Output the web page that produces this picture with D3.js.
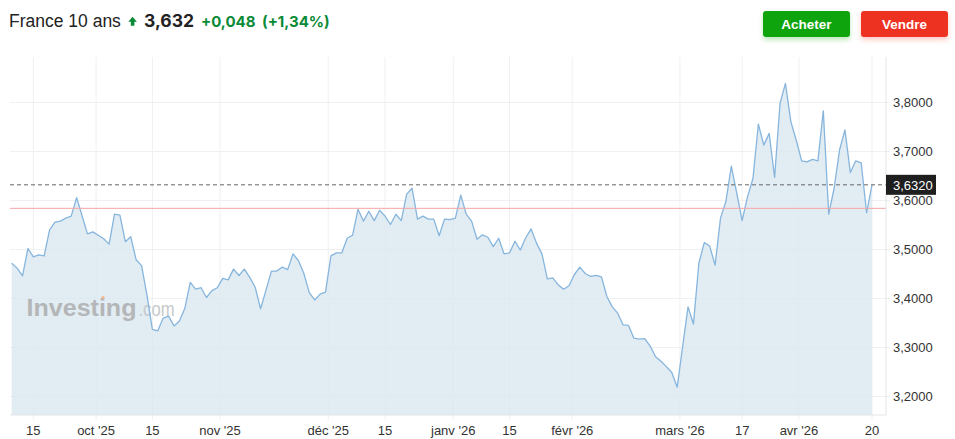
<!DOCTYPE html>
<html>
<head>
<meta charset="utf-8">
<title>France 10 ans</title>
<script src="https://d3js.org/d3.v7.min.js"></script>
<style>
body { margin: 0; background: #fff; }
svg { display: block; font-family: "Liberation Sans", Arial, sans-serif; }
.num { font-family: Inter, "Liberation Sans", sans-serif; }
</style>
</head>
<body>
<svg id="chart" width="955" height="439"></svg>
<script>
// daily closes, one per trading day
const yields = [
  3.472, 3.462, 3.446, 3.502, 3.485, 3.489, 3.487, 3.540, 3.556, 3.558,
  3.564, 3.568, 3.606, 3.569, 3.532, 3.536, 3.529, 3.522, 3.511, 3.572,
  3.570, 3.516, 3.526, 3.479, 3.467, 3.407, 3.337, 3.334, 3.360, 3.364,
  3.344, 3.354, 3.380, 3.433, 3.419, 3.422, 3.402, 3.416, 3.422, 3.441,
  3.438, 3.460, 3.447, 3.460, 3.443, 3.423, 3.379, 3.417, 3.456, 3.456,
  3.464, 3.459, 3.491, 3.477, 3.451, 3.412, 3.397, 3.409, 3.413, 3.487,
  3.493, 3.493, 3.523, 3.529, 3.582, 3.558, 3.578, 3.559, 3.580, 3.568,
  3.551, 3.572, 3.559, 3.613, 3.625, 3.562, 3.568, 3.562, 3.562, 3.528,
  3.562, 3.561, 3.564, 3.611, 3.572, 3.558, 3.521, 3.530, 3.525, 3.506,
  3.523, 3.491, 3.493, 3.517, 3.499, 3.524, 3.542, 3.513, 3.491, 3.440,
  3.442, 3.428, 3.419, 3.426, 3.449, 3.464, 3.451, 3.445, 3.447, 3.444,
  3.404, 3.383, 3.370, 3.346, 3.345, 3.319, 3.317, 3.318, 3.303, 3.281,
  3.272, 3.261, 3.249, 3.219, 3.302, 3.383, 3.348, 3.472, 3.514, 3.507,
  3.468, 3.564, 3.598, 3.670, 3.615, 3.559, 3.608, 3.645, 3.756, 3.713,
  3.737, 3.647, 3.798, 3.839, 3.761, 3.723, 3.681, 3.679, 3.684, 3.681,
  3.783, 3.572, 3.625, 3.703, 3.744, 3.657, 3.681, 3.677, 3.575, 3.632
];

// x ticks: position in trading days from first point, and label
const tickDays   = [4, 15.6, 26, 38.5, 58.5, 69, 81.6, 92, 103.6, 123.5, 135, 145.5, 159];
const tickLabels = ["15", "oct '25", "15", "nov '25", "déc '25", "15", "janv '26", "15", "févr '26", "mars '26", "17", "avr '26", "20"];

const yTicks = [3.2, 3.3, 3.4, 3.5, 3.6, 3.7, 3.8];
const lastValue = 3.632;
const prevClose = 3.584;

const fr = d3.formatLocale({decimal: ",", thousands: " ", grouping: [3], currency: ["", " €"]});
const f4 = fr.format(".4f");

const svg = d3.select("#chart");

const plotL = 10, plotR = 886, plotT = 57, plotB = 415;

var x = d3.scaleLinear().domain([0, yields.length - 1]).range([11.7, 872]);
var y = d3.scaleLinear().domain([3.2, 3.8]).range([396.5, 102.5]);

// header
svg.append("text").attr("x", 9).attr("y", 27)
  .attr("font-size", 17.5).attr("fill", "#222").text("France 10 ans");

svg.append("path")
  .attr("d", "M128.3,21.7 L132.6,16.7 L136.9,21.7 L134.4,21.7 L134.4,25.7 L130.8,25.7 L130.8,21.7 Z")
  .attr("fill", "#0a8a36");

svg.append("text").attr("class", "num").attr("x", 144).attr("y", 27)
  .attr("font-size", 17.5).attr("font-weight", 700).attr("fill", "#222").text("3,632");
svg.append("text").attr("class", "num").attr("x", 201).attr("y", 27)
  .attr("font-size", 15).attr("font-weight", 700).attr("fill", "#0a8a36").text("+0,048");
svg.append("text").attr("class", "num").attr("x", 262).attr("y", 27)
  .attr("font-size", 15).attr("font-weight", 700).attr("fill", "#0a8a36").text("(+1,34%)");

// buttons, with a soft glow of their own colour
const defs = svg.append("defs");
[["Acheter", 763, "#0ea40e", "shG"], ["Vendre", 861, "#ee3124", "shR"]].forEach(function (b) {
  const flt = defs.append("filter").attr("id", b[3])
    .attr("x", "-20%").attr("y", "-40%").attr("width", "140%").attr("height", "200%");
  flt.append("feDropShadow").attr("dx", 0).attr("dy", 3).attr("stdDeviation", 2.5)
    .attr("flood-color", b[2]).attr("flood-opacity", 0.25);
  svg.append("rect").attr("x", b[1]).attr("y", 11).attr("width", 87).attr("height", 26)
    .attr("rx", 3).attr("fill", b[2]).attr("filter", "url(#" + b[3] + ")");
  svg.append("text").attr("x", b[1] + 43.5).attr("y", 29).attr("text-anchor", "middle")
    .attr("font-size", 13.5).attr("font-weight", 700).attr("fill", "#fff").text(b[0]);
});

// gridlines
svg.append("g").selectAll("line").data(yTicks).enter().append("line")
  .attr("x1", plotL).attr("x2", plotR + 4)
  .attr("y1", d => y(d)).attr("y2", d => y(d))
  .attr("stroke", "#eef0f2").attr("stroke-width", 1);

svg.append("g").selectAll("line").data(tickDays).enter().append("line")
  .attr("x1", d => x(d)).attr("x2", d => x(d))
  .attr("y1", plotT).attr("y2", plotB + 5)
  .attr("stroke", "#eef0f2").attr("stroke-width", 1);

// area + line
const area = d3.area().x((d, i) => x(i)).y0(plotB).y1(d => y(d));
const line = d3.line().x((d, i) => x(i)).y(d => y(d));

svg.append("path").datum(yields).attr("d", area)
  .attr("fill", "#dbe7f0").attr("fill-opacity", 0.8);

// watermark
const wm = svg.append("text").attr("x", 26.5).attr("y", 315.5);
wm.append("tspan").attr("font-size", 23.5).attr("font-weight", 700)
  .attr("textLength", 110).attr("lengthAdjust", "spacingAndGlyphs")
  .attr("fill", "#b4b6b8").text("Investing");
wm.append("tspan").attr("x", 138.5).attr("font-size", 21)
  .attr("textLength", 36).attr("lengthAdjust", "spacingAndGlyphs")
  .attr("fill", "#c6c9cc").text(".com");
svg.append("circle").attr("cx", 103).attr("cy", 297.5).attr("r", 1.6).attr("fill", "#f0b98a");

svg.append("path").datum(yields).attr("d", line)
  .attr("fill", "none").attr("stroke", "#86b5dd").attr("stroke-width", 1.3)
  .attr("stroke-linejoin", "round");

// previous close and last value lines
svg.append("line").attr("x1", plotL).attr("x2", plotR)
  .attr("y1", y(prevClose)).attr("y2", y(prevClose))
  .attr("stroke", "#f6a5a5").attr("stroke-width", 1);
svg.append("line").attr("x1", plotL).attr("x2", plotR)
  .attr("y1", y(lastValue)).attr("y2", y(lastValue))
  .attr("stroke", "#666").attr("stroke-width", 1).attr("stroke-dasharray", "4,3");

// axes frame
svg.append("line").attr("x1", plotL).attr("x2", plotR).attr("y1", plotB).attr("y2", plotB)
  .attr("stroke", "#e3e5e8");
svg.append("line").attr("x1", plotR).attr("x2", plotR).attr("y1", plotT).attr("y2", plotB)
  .attr("stroke", "#e3e5e8");

// y labels
svg.append("g").selectAll("text").data(yTicks).enter().append("text")
  .attr("x", 893).attr("y", d => y(d) + 4.5)
  .attr("font-size", 13).attr("fill", "#333")
  .text(d => f4(d));

// x labels
svg.append("g").selectAll("text").data(tickDays).enter().append("text")
  .attr("x", d => x(d)).attr("y", 434.5).attr("text-anchor", "middle")
  .attr("font-size", 13).attr("fill", "#333")
  .text((d, i) => tickLabels[i]);

// last value tag
svg.append("rect").attr("x", plotR).attr("y", y(lastValue) - 10).attr("width", 50).attr("height", 20)
  .attr("fill", "#1f1f1f");
svg.append("text").attr("x", 893).attr("y", y(lastValue) + 5)
  .attr("font-size", 13).attr("fill", "#fff").text(f4(lastValue));
</script>
</body>
</html>
